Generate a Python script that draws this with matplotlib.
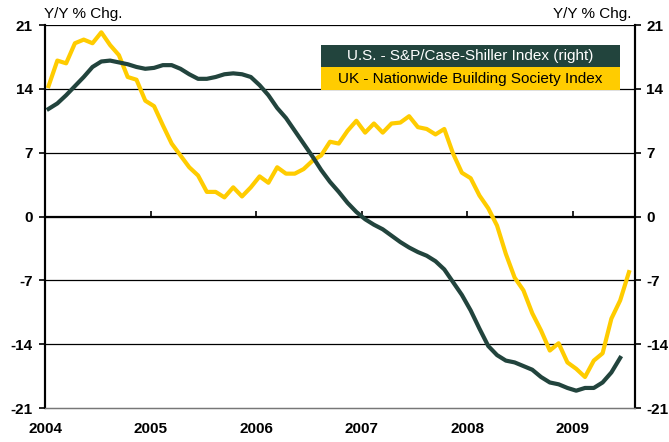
import matplotlib.pyplot as plt
from matplotlib.patches import Rectangle

# monthly data, Jan 2004 onwards (Y/Y % change)
us_case_shiller = [11.8, 12.4, 13.3, 14.3, 15.3, 16.4, 17.0, 17.1, 16.9, 16.7, 16.4, 16.2,
                   16.3, 16.6, 16.6, 16.2, 15.6, 15.1, 15.1, 15.3, 15.6, 15.7, 15.6, 15.3,
                   14.4, 13.3, 11.9, 10.8, 9.4, 8.0, 6.6, 5.1, 3.8, 2.7, 1.5, 0.5,
                   -0.3, -0.9, -1.4, -2.1, -2.8, -3.4, -3.9, -4.3, -4.9, -5.8, -7.2, -8.6,
                   -10.3, -12.3, -14.2, -15.2, -15.8, -16.0, -16.4, -16.8, -17.6, -18.2, -18.4, -18.8,
                   -19.1, -18.8, -18.8, -18.2, -17.1, -15.5]
uk_nationwide = [14.3, 17.1, 16.8, 19.0, 19.4, 19.0, 20.2, 18.8, 17.7, 15.3, 15.0, 12.7,
                 12.1, 10.0, 8.0, 6.7, 5.4, 4.5, 2.7, 2.7, 2.1, 3.2, 2.2, 3.2,
                 4.4, 3.7, 5.4, 4.7, 4.7, 5.2, 6.1, 6.7, 8.2, 8.0, 9.4, 10.5,
                 9.2, 10.2, 9.2, 10.2, 10.3, 11.0, 9.8, 9.6, 9.0, 9.6, 6.9, 4.8,
                 4.2, 2.3, 0.9, -1.0, -4.1, -6.7, -8.1, -10.6, -12.5, -14.7, -13.9, -16.0,
                 -16.7, -17.6, -15.8, -15.0, -11.2, -9.2, -6.1]
years = [2004, 2005, 2006, 2007, 2008, 2009]
yticks = [21, 14, 7, 0, -7, -14, -21]

us_x = [2004 + (i + 0.4) / 12 for i in range(len(us_case_shiller))]
uk_x = [2004 + (i + 0.4) / 12 for i in range(len(uk_nationwide))]

DARK = '#22443D'
YELLOW = '#FFCC00'

plt.rcParams['font.family'] = ['Liberation Sans', 'DejaVu Sans']

fig = plt.figure(figsize=(6.69, 4.42), dpi=100)
ax = fig.add_axes([0.0673, 0.0769, 0.8818, 0.8665])
ax2 = ax.twinx()

ax.set_xlim(2004, 2009.59)
ax.set_ylim(-21, 21)
ax2.set_ylim(-21, 21)

# grid lines
for v in yticks:
    if v in (0, -21):
        continue
    ax.axhline(v, color='black', lw=0.9, zorder=1)
ax.axhline(0, color='black', lw=1.6, zorder=1)

ax.plot(uk_x, uk_nationwide, color=YELLOW, lw=3, zorder=3, solid_joinstyle='round')
ax2.plot(us_x, us_case_shiller, color=DARK, lw=3, zorder=3, solid_joinstyle='round')

# spines
for a in (ax, ax2):
    a.spines['top'].set_visible(False)
    a.spines['bottom'].set_color('#777777')
    a.spines['bottom'].set_linewidth(0.9)
    a.spines['left'].set_linewidth(1.5)
    a.spines['right'].set_linewidth(1.5)

ax.set_yticks(yticks)
ax.set_yticklabels([str(v) for v in yticks], fontweight='bold', fontsize=11)
ax2.set_yticks(yticks)
ax2.set_yticklabels([str(v) for v in yticks], fontweight='bold', fontsize=11)
ax.tick_params(axis='y', direction='out', length=4, width=1.2, pad=5)
ax2.tick_params(axis='y', direction='out', length=4, width=1.2, pad=4)

ax.set_xticks(years)
ax.set_xticklabels([str(y) for y in years], fontweight='bold', fontsize=11)
ax.tick_params(axis='x', length=0, pad=10)

# ticks on the zero line
sec = ax.secondary_xaxis(0.5)
sec.set_xticks(years)
sec.set_xticklabels([])
sec.tick_params(axis='x', direction='out', length=4, width=1.2)
sec.spines['bottom'].set_linewidth(1.6)

fig.text(0.066, 0.968, 'Y/Y % Chg.', fontsize=11, ha='left', va='center')
fig.text(0.944, 0.968, 'Y/Y % Chg.', fontsize=11, ha='right', va='center')

# legend boxes
lx0, lx1 = 0.468, 0.975
ax.add_patch(Rectangle((lx0, 0.890), lx1 - lx0, 0.058, transform=ax.transAxes,
                       facecolor=DARK, edgecolor='none', zorder=5))
ax.add_patch(Rectangle((lx0, 0.830), lx1 - lx0, 0.060, transform=ax.transAxes,
                       facecolor=YELLOW, edgecolor='none', zorder=5))
ax.text((lx0 + lx1) / 2, 0.919, 'U.S. - S&P/Case-Shiller Index (right)', transform=ax.transAxes,
        color='white', fontsize=11, ha='center', va='center', zorder=6)
ax.text((lx0 + lx1) / 2, 0.860, 'UK - Nationwide Building Society Index', transform=ax.transAxes,
        color='black', fontsize=11, ha='center', va='center', zorder=6)

fig.savefig('out.png', dpi=100)
